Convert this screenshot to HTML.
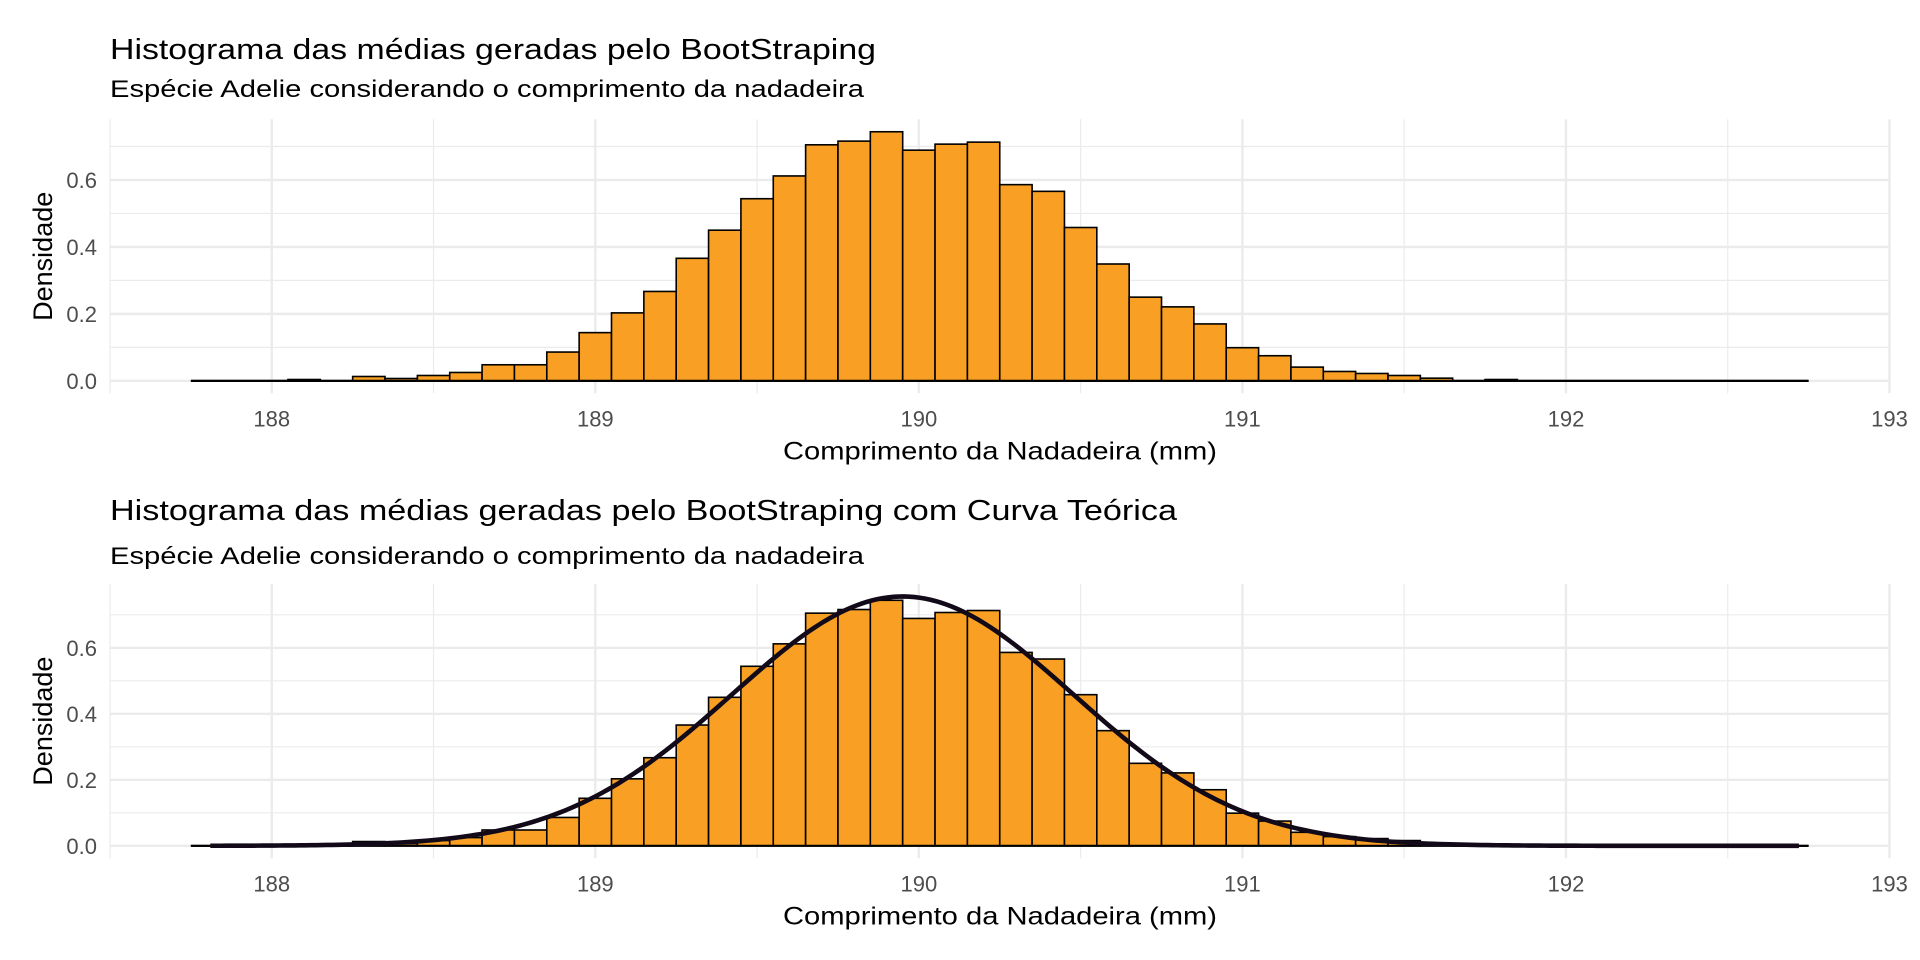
<!DOCTYPE html>
<html><head><meta charset="utf-8"><style>
html,body{margin:0;padding:0;background:#fff;}
svg{display:block;font-family:"Liberation Sans",sans-serif;}
</style></head><body>
<svg id="chart" width="1920" height="960" viewBox="0 0 1920 960">
<g id="top"></g>
<g id="bot"></g>
</svg>
<script>
const binStarts = [187.75,187.85,187.95,188.05,188.15,188.25,188.35,188.45,188.55,188.65,188.75,188.85,188.95,189.05,189.15,189.25,189.35,189.45,189.55,189.65,189.75,189.85,189.95,190.05,190.15,190.25,190.35,190.45,190.55,190.65,190.75,190.85,190.95,191.05,191.15,191.25,191.35,191.45,191.55,191.65,191.75,191.85,191.95,192.05,192.15,192.25,192.35,192.45,192.55,192.65];
const densities = [0,0,0,0.004,0,0.013,0.007,0.016,0.025,0.048,0.048,0.086,0.144,0.203,0.267,0.366,0.45,0.544,0.612,0.705,0.716,0.744,0.689,0.707,0.713,0.586,0.566,0.458,0.349,0.25,0.221,0.17,0.099,0.075,0.041,0.028,0.022,0.016,0.008,0,0.004,0,0,0,0,0,0,0,0,0];
const binWidth = 0.1;
const curveMean = 189.95;
const curveSd = 0.528;
const curveRange = [187.81, 192.72];
const xTicks = [188,189,190,191,192,193];
const xMinor = [187.5,188.5,189.5,190.5,191.5,192.5];
const yTicks = [0,0.2,0.4,0.6];
const yTickLabels = ["0.0","0.2","0.4","0.6"];
const yMinor = [0.1,0.3,0.5,0.7];

const NS="http://www.w3.org/2000/svg";
function mk(parent,tag,attrs,text){const e=document.createElementNS(NS,tag);for(const k in attrs)e.setAttribute(k,attrs[k]);if(text!==undefined)e.textContent=text;parent.appendChild(e);return e;}

const L=110,R=1889.5,xMin=187.5,xMax=193;
const xs=v=>L+(v-xMin)/(xMax-xMin)*(R-L);
function dnorm(x){return Math.exp(-0.5*((x-curveMean)/curveSd)**2)/(curveSd*Math.sqrt(2*Math.PI));}

function panel(g,cfg){
  const yMaxData=cfg.curve?Math.max(Math.max(...densities),dnorm(curveMean)):Math.max(...densities);
  const ex=yMaxData*0.05, lo=-ex, hi=yMaxData+ex;
  const ys=v=>cfg.bottom-(v-lo)/(hi-lo)*(cfg.bottom-cfg.top);
  let t=mk(g,'text',{x:110,y:cfg.titleY,'font-size':29,fill:'#000',textLength:cfg.titleW,lengthAdjust:'spacingAndGlyphs'},cfg.title);
  
  
  t=mk(g,'text',{x:110,y:cfg.subY,'font-size':24,fill:'#000',textLength:754,lengthAdjust:'spacingAndGlyphs'},'Espécie Adelie considerando o comprimento da nadadeira');
  
  
  const grid=mk(g,'g',{});
  
  
  yMinor.forEach(v=>{if(v<hi)mk(grid,'line',{x1:L,x2:R,y1:ys(v),y2:ys(v),stroke:'#ebebeb','stroke-width':1.2});});
  xMinor.forEach(v=>mk(grid,'line',{x1:xs(v),x2:xs(v),y1:cfg.top,y2:cfg.bottom,stroke:'#ebebeb','stroke-width':1.2}));
  yTicks.forEach(v=>mk(grid,'line',{x1:L,x2:R,y1:ys(v),y2:ys(v),stroke:'#ebebeb','stroke-width':2.4}));
  xTicks.forEach(v=>mk(grid,'line',{x1:xs(v),x2:xs(v),y1:cfg.top,y2:cfg.bottom,stroke:'#ebebeb','stroke-width':2.4}));
  const bars=mk(g,'g',{});
  
  
  binStarts.forEach((b,i)=>{
    const x0=xs(b),x1=xs(b+binWidth),y=ys(densities[i]),y0=ys(0);
    if(densities[i]<=0){
      const l=mk(bars,'line',{x1:x0,x2:x1,y1:y0,y2:y0,stroke:'#000','stroke-width':2});
      
      
      return;
    }
    const r=mk(bars,'rect',{x:x0,y:y,width:x1-x0,height:Math.max(0,y0-y),fill:'#F9A024',stroke:'#000','stroke-width':1.6});
    
    
  });
  const bl=mk(bars,'line',{x1:xs(binStarts[0]),x2:xs(binStarts[binStarts.length-1]+binWidth),y1:ys(0),y2:ys(0),stroke:'#000','stroke-width':2.2});
  
  
  if(cfg.curve){
    let d='';const n=300;
    for(let i=0;i<=n;i++){const x=curveRange[0]+(curveRange[1]-curveRange[0])*i/n;d+=(i?'L':'M')+xs(x).toFixed(2)+','+ys(dnorm(x)).toFixed(2);}
    const p=mk(g,'path',{d:d,fill:'none',stroke:'#120a18','stroke-width':4.6});
    
    
  }
  const xl=mk(g,'g',{});
  
  
  xTicks.forEach(v=>mk(xl,'text',{x:xs(v),y:cfg.bottom+33,'font-size':22,fill:'#4d4d4d','text-anchor':'middle'},String(v)));
  const yl=mk(g,'g',{});
  
  
  yTicks.forEach((v,i)=>mk(yl,'text',{x:97,y:ys(v)+8,'font-size':22,fill:'#4d4d4d','text-anchor':'end'},yTickLabels[i]));
  t=mk(g,'text',{x:1000,y:cfg.bottom+66,'font-size':25,fill:'#000','text-anchor':'middle',textLength:434,lengthAdjust:'spacingAndGlyphs'},'Comprimento da Nadadeira (mm)');
  
  
  const cy=(cfg.top+cfg.bottom)/2;
  t=mk(g,'text',{x:0,y:0,'font-size':27,fill:'#000','text-anchor':'middle',transform:`translate(52,${cy}) rotate(-90)`},'Densidade');
  
  
}
panel(document.getElementById('top'),{top:119.3,bottom:393.3,titleY:59,subY:97,titleW:766,title:'Histograma das médias geradas pelo BootStraping',curve:false});
panel(document.getElementById('bot'),{top:584,bottom:858.3,titleY:520,subY:564,titleW:1067,title:'Histograma das médias geradas pelo BootStraping com Curva Teórica',curve:true});
</script>
</body></html>
